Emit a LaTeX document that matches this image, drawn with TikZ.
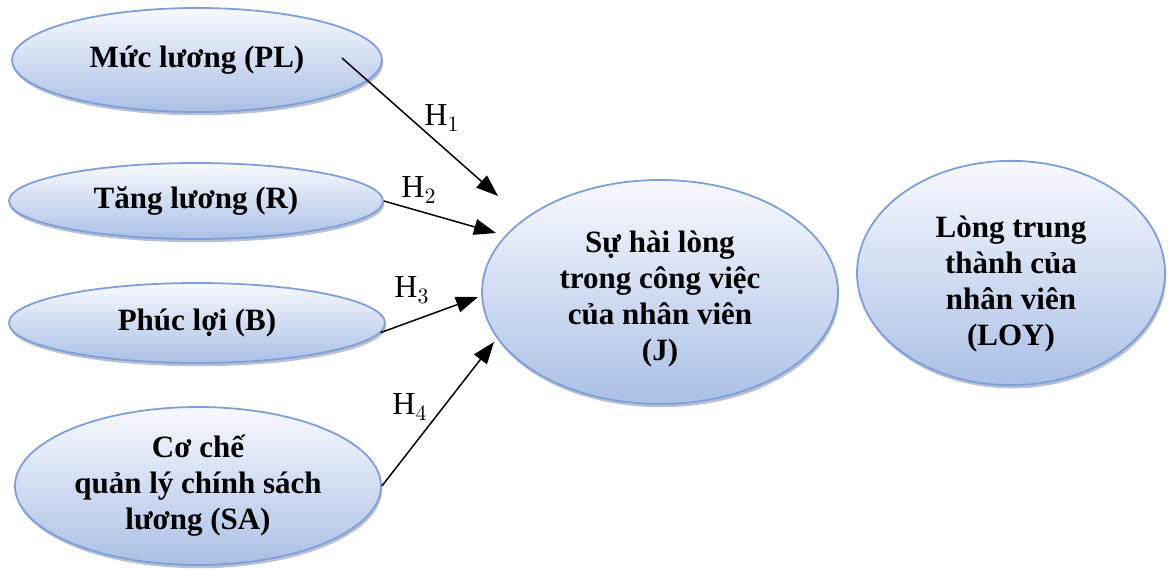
\documentclass[tikz,border=0pt]{standalone}
\usepackage{fontspec}
\setmainfont{Liberation Serif}
\usetikzlibrary{shapes.geometric,shadows,arrows.meta}
\definecolor{ellTop}{HTML}{F8F9FE}
\definecolor{ellBot}{HTML}{ABC0E6}
\definecolor{ellLine}{HTML}{7F9FD8}
\definecolor{ellShadow}{HTML}{7E8DB0}
\newcommand{\downby}[1]{\rule{0pt}{\dimexpr 12pt+#1\relax}}
\tikzset{
  constr/.style={ellipse, draw=ellLine, line width=0.9pt, top color=ellTop, bottom color=ellBot,
    inner sep=0pt, align=center, font=\fontsize{15.5}{18}\selectfont\bfseries,
    drop shadow={shadow xshift=0.6pt, shadow yshift=-1.6pt, fill=ellShadow, opacity=0.55}},
  hyp/.style={-{Triangle[length=11pt,width=8pt]}, line width=0.75pt, black},
  hlab/.style={font=\fontsize{16}{18}\selectfont, inner sep=0pt}
}
\begin{document}
\begin{tikzpicture}[x=0.5pt,y=-0.5pt]
\useasboundingbox (0,0) rectangle (1168,569);
\node[constr, minimum width=185pt, minimum height=52pt] (PL) at (197,60) {Mức lương (PL)};
\node[constr, minimum width=187pt, minimum height=38pt] (R) at (196,201) {Tăng lương (R)};
\node[constr, minimum width=188pt, minimum height=40pt] (B) at (197,323) {Phúc lợi (B)};
\node[constr, minimum width=183pt, minimum height=79pt] (SA) at (198,486) {Cơ chế\\quản lý chính sách\\lương (SA)};
\node[constr, minimum width=178pt, minimum height=112pt] (J) at (660,292) {\downby{6pt}Sự hài lòng\\trong công việc\\của nhân viên\\(J)};
\node[constr, minimum width=154pt, minimum height=110pt] (LOY) at (1011,273) {\downby{10pt}Lòng trung\\thành của\\nhân viên\\(LOY)};

\coordinate (s1) at (342,58);
\coordinate (t1) at (498,196);
\coordinate (t2) at (496,233);
\coordinate (t3) at (478,297);
\coordinate (t4) at (494,342);

\draw[hyp] (s1) -- (t1);
\draw[hyp] (R.east) -- (t2);
\draw[hyp] (B.-3.6) -- (t3);
\draw[hyp] (SA.east) -- (t4);

\node[hlab] (h1) at (442,118) {H$_1$};
\node[hlab] (h2) at (419,190) {H$_2$};
\node[hlab] (h3) at (412,290) {H$_3$};
\node[hlab] (h4) at (410,407) {H$_4$};
\end{tikzpicture}
\end{document}
